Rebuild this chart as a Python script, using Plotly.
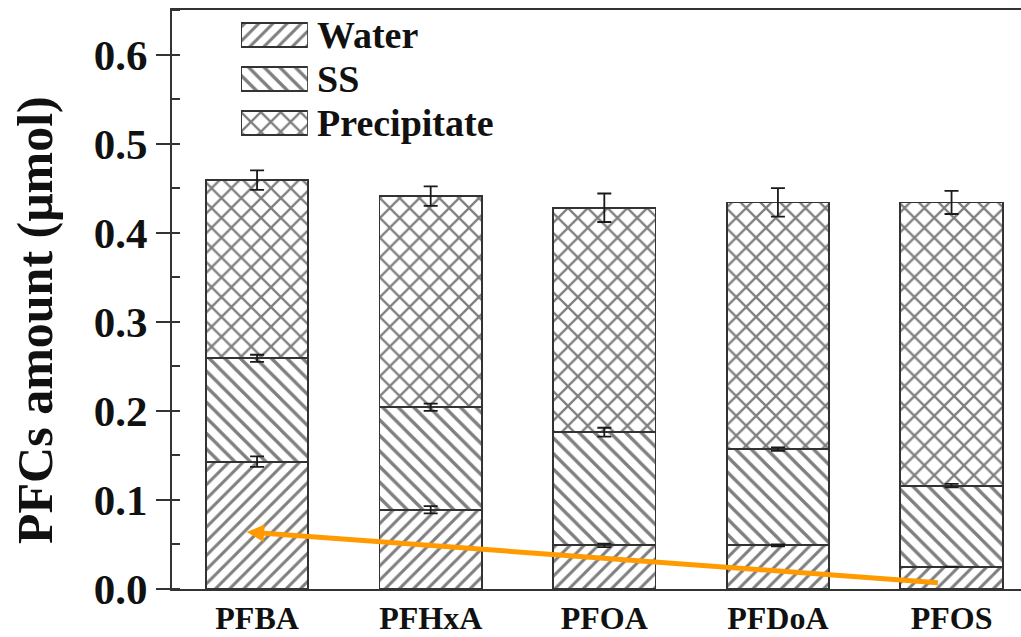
import plotly.graph_objects as go

categories = ["PFBA", "PFHxA", "PFOA", "PFDoA", "PFOS"]
water = [0.143, 0.089, 0.049, 0.049, 0.025]
ss = [0.116, 0.115, 0.127, 0.108, 0.091]
precipitate = [0.200, 0.237, 0.252, 0.277, 0.318]
water_err = [0.006, 0.004, 0.002, 0.001, 0.0]
ss_err = [0.004, 0.004, 0.005, 0.002, 0.002]
total_err = [0.011, 0.011, 0.016, 0.016, 0.013]
y_ticks = [0.0, 0.1, 0.2, 0.3, 0.4, 0.5, 0.6]
series_names = ["Water", "SS", "Precipitate"]
y_title = "PFCs amount (μmol)"

xpos = list(range(len(categories)))
FONT = "Liberation Serif"
LINE = "#333333"
TXT = "#111111"
patterns = {"Water": ("/", 10), "SS": ("\\", 11), "Precipitate": ("x", 14)}


def pat(name):
    shape, size = patterns[name]
    return dict(shape=shape, size=size, solidity=0.3, fgcolor="#000000", bgcolor="white")


fig = go.Figure()
for name, vals in zip(series_names, [water, ss, precipitate]):
    fig.add_trace(go.Bar(
        name=name, x=xpos, y=vals, width=0.59, showlegend=False,
        marker=dict(color="white", line=dict(color=LINE, width=1.8), pattern=pat(name)),
    ))

# error bars at top of each stacked segment (drawn on top of bars)
cum_w = water
cum_s = [a + b for a, b in zip(water, ss)]
cum_t = [a + b + c for a, b, c in zip(water, ss, precipitate)]
for tops, errs in [(cum_w, water_err), (cum_s, ss_err), (cum_t, total_err)]:
    fig.add_trace(go.Scatter(
        x=xpos, y=tops, mode="markers", showlegend=False, hoverinfo="skip",
        marker=dict(size=1, opacity=0),
        error_y=dict(type="data", array=errs, visible=True, color="#1a1a1a",
                     thickness=1.8, width=7),
    ))

# custom legend with large patterned swatches (inset axes)
for i, name in enumerate(series_names):
    fig.add_trace(go.Bar(
        x=[1], y=[i], orientation="h", width=0.55, base=0,
        xaxis="x2", yaxis="y2", showlegend=False, hoverinfo="skip",
        marker=dict(color="white", line=dict(color=LINE, width=1.8), pattern=pat(name)),
    ))
    fig.add_annotation(
        x=0.168, y=i, xref="paper", yref="y2", text=name, showarrow=False,
        xanchor="left", yanchor="middle",
        font=dict(family=FONT, size=38, color=TXT, weight="bold"),
    )

# y-axis title
fig.add_annotation(
    x=0, y=0.4646, xref="paper", yref="paper", xshift=-137,
    text=y_title, textangle=-90, showarrow=False,
    xanchor="center", yanchor="middle",
    font=dict(family=FONT, size=50, color=TXT, weight="bold"),
)

fig.add_annotation(
    x=-0.06, y=0.064, xref="x", yref="y",
    ax=3.93, ay=0.007, axref="x", ayref="y",
    showarrow=True, arrowhead=2, arrowsize=0.7, arrowwidth=5,
    arrowcolor="#FF9A00", text="",
)

fig.update_layout(
    width=1021, height=637,
    barmode="stack",
    plot_bgcolor="white", paper_bgcolor="white",
    margin=dict(l=172, r=0, t=10, b=48),
    font=dict(family=FONT, color=TXT),
    showlegend=False,
    xaxis=dict(range=[-0.49, 4.40], tickvals=xpos, ticktext=categories,
               showline=True, linecolor=LINE, linewidth=2, mirror=True,
               ticks="", showgrid=False, zeroline=False, ticklabelstandoff=0,
               automargin=False,
               tickfont=dict(family=FONT, size=32, color=TXT, weight="bold")),
    yaxis=dict(range=[0, 0.65], tickvals=y_ticks,
               ticktext=[f"{v:.1f}" for v in y_ticks],
               showline=True, linecolor=LINE, linewidth=2,
               ticks="outside", ticklen=14, tickwidth=2, tickcolor=LINE,
               minor=dict(ticks="inside", ticklen=8, tickwidth=2,
                          tickcolor=LINE, dtick=0.05, showgrid=False),
               showgrid=False, zeroline=False, automargin=False,
               tickfont=dict(family=FONT, size=43, color=TXT, weight="bold")),
    xaxis2=dict(domain=[0.0813, 0.160], range=[0, 1], anchor="y2",
                visible=False, fixedrange=True),
    yaxis2=dict(domain=[0.7668, 0.9948], range=[2.5, -0.5], anchor="x2",
                visible=False, fixedrange=True),
)

fig.write_html("out.html")
